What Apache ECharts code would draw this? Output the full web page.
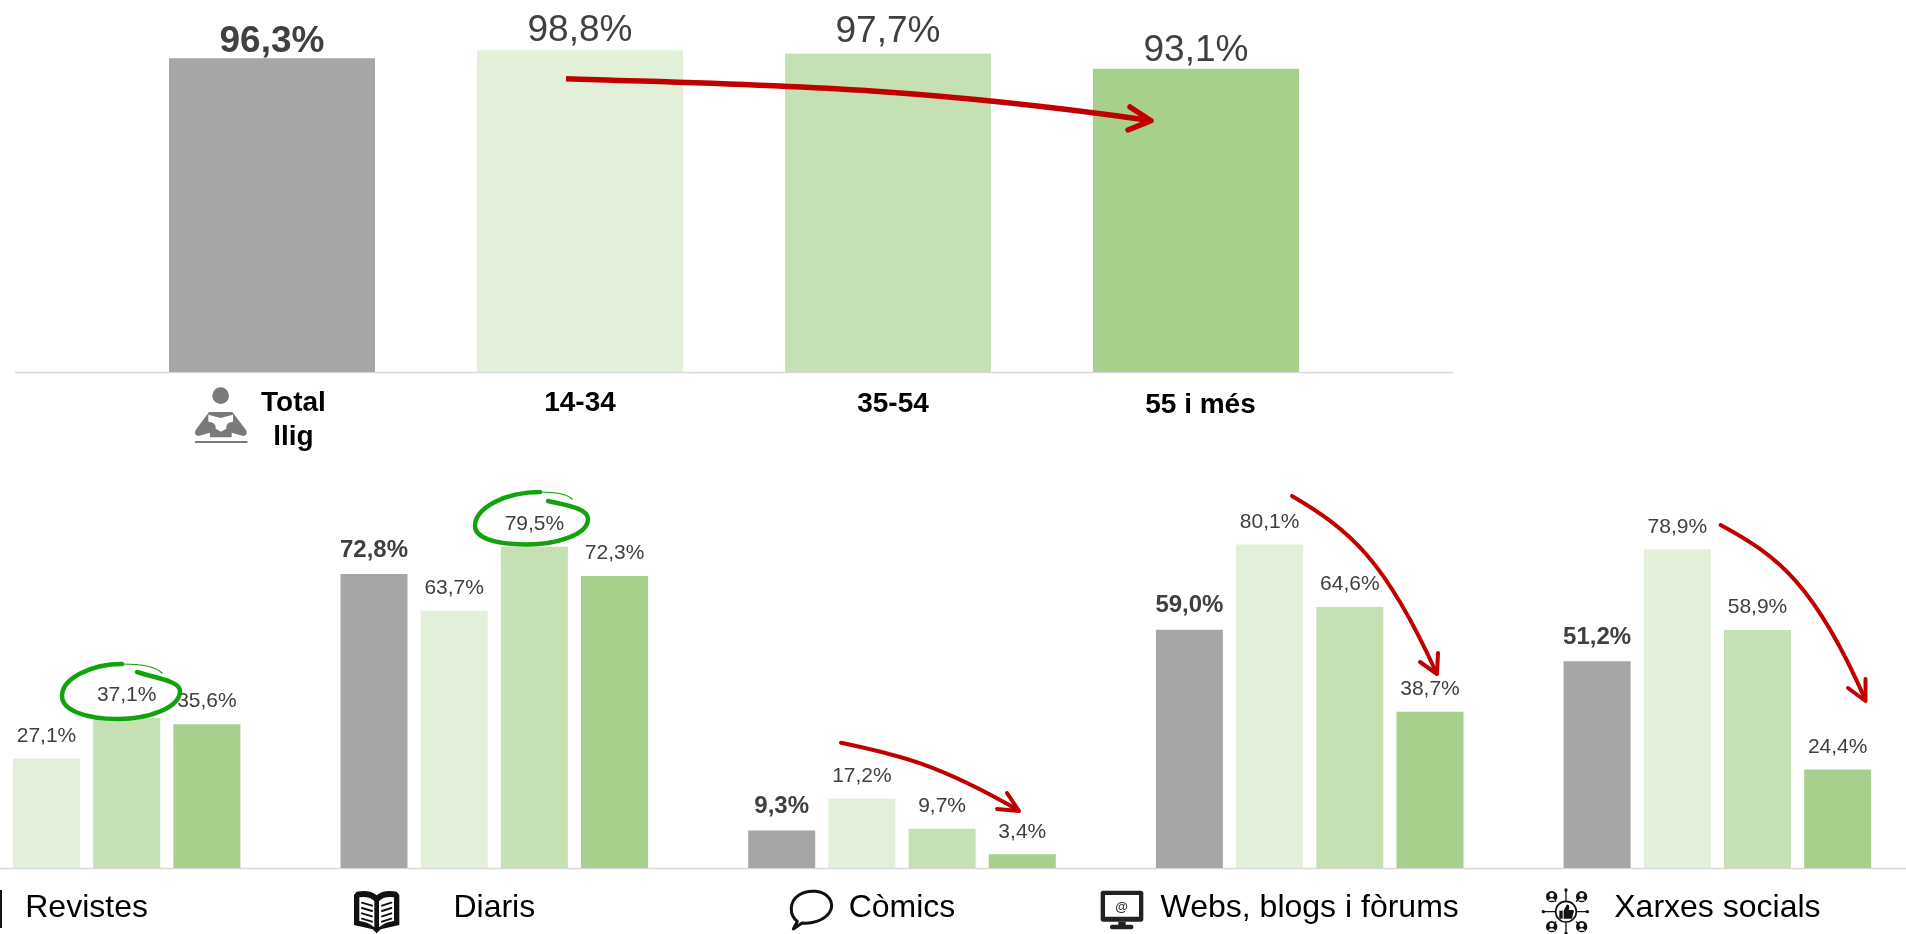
<!DOCTYPE html>
<html>
<head>
<meta charset="utf-8">
<style>html,body{margin:0;padding:0;background:#fff}#c{width:1906px;height:934px}</style>
<script src="https://cdn.jsdelivr.net/npm/echarts@6/dist/echarts.min.js"></script>
</head>
<body>
<div id="c"></div>
<script>
// ---- data ----
const ageCategories = ['Total llig', '14-34', '35-54', '55 i més'];
const ageValues = [96.3, 98.8, 97.7, 93.1];
const mediaCategories = ['Revistes', 'Diaris', 'Còmics', 'Webs, blogs i fòrums', 'Xarxes socials'];
const totalValues = [null, 72.8, 9.3, 59.0, 51.2];
const youngValues = [27.1, 63.7, 17.2, 80.1, 78.9];
const middleValues = [37.1, 79.5, 9.7, 64.6, 58.9];
const olderValues = [35.6, 72.3, 3.4, 38.7, 24.4];

// ---- styling ----
const GREY = '#A6A6A6', LIGHT = '#E2EFD9', MID = '#C5E0B3', DARK = '#A8D08D';
const LABEL = '#404040', RED = '#C00000', GREEN = '#12A30C', AXIS = '#D9D9D9';
const FONT = '"Liberation Sans", Arial, sans-serif';
const ageColors = [GREY, LIGHT, MID, DARK];
const ageLabelLift = [-2, 0.5, 3.5, -1];
const pct = v => v.toFixed(1).replace('.', ',') + '%';

const bottomSeries = (name, values, color, bold) => ({
  name, type: 'bar', xAxisIndex: 1, yAxisIndex: 1, data: values,
  barWidth: 67, barGap: '19.7%', animation: false, silent: true,
  itemStyle: { color },
  label: {
    show: true, position: 'top', distance: 12, color: LABEL, fontFamily: FONT,
    fontSize: bold ? 24 : 21, fontWeight: bold ? 'bold' : 'normal',
    formatter: p => pct(p.value)
  }
});

// ---- annotations (arrows, circles, icons) ----
const strokePath = (d, color, w) => ({
  type: 'path', shape: { pathData: d },
  style: { fill: null, stroke: color, lineWidth: w, lineCap: 'round', lineJoin: 'round' }
});
const fillPath = (d, color) => ({ type: 'path', shape: { pathData: d }, style: { fill: color, stroke: null } });
const circle = (cx, cy, r, color) => ({ type: 'circle', shape: { cx, cy, r }, style: { fill: color } });
const rect = (x, y, width, height, color, r) => ({ type: 'rect', shape: { x, y, width, height, r: r || 0 }, style: { fill: color } });
const zoomGroup = (x, y, children) => ({ type: 'group', x, y, scaleX: 1 / 3, scaleY: 1 / 3, children });

const person = (cx, cy) => ({
  type: 'group', children: [
    circle(cx, cy, 17, '#111'),
    circle(cx, cy - 5, 7, '#fff'),
    fillPath(`M${cx - 11} ${cy + 12} Q${cx} ${cy - 2} ${cx + 11} ${cy + 12} Z`, '#fff')
  ]
});

function annotations() {
  const out = [];
  // arrows
  out.push(
    { ...strokePath('M566 78.7 C750 85 900 85 1150 120.5', RED, 5.5), style: { fill: null, stroke: RED, lineWidth: 5.5, lineCap: 'butt' } },
    strokePath('M1130 107 L1151 120.7 L1128 130', RED, 5.5),
    strokePath('M841 742.7 C900 755 940 765 1018 810', RED, 4),
    strokePath('M1007 793 L1019 811 L997 809', RED, 4),
    strokePath('M1292 496 C1350 530 1385 560 1436 672', RED, 4),
    strokePath('M1438 653 L1437 674 L1420 662', RED, 4),
    strokePath('M1720.6 525 C1778 556 1815 585 1865 699', RED, 4),
    strokePath('M1865.5 679 L1865.5 701 L1848 688', RED, 4)
  );
  // hand-drawn circles
  out.push(
    strokePath('M137 672 C155 678 180 681 180 691 C180 708 148 719 118 719 C85 719 62 710 62 696 C62 678 92 664 122 664', GREEN, 4.5),
    strokePath('M122 664 C140 664 156 667 162 673', GREEN, 1.2),
    strokePath('M548 501 C565 505 588 508 588 519 C588 535 555 545 525 544.5 C495 544 475 538 475 526 C475 508 505 492 540 492', GREEN, 4.5),
    strokePath('M540 492 C555 492 567 494 572 499', GREEN, 1.2)
  );
  // reader icon
  out.push(zoomGroup(185, 380, [
    circle(107, 47, 25, '#7A7A7A'),
    fillPath('M72 96 L142 96 L183 150 Q190 165 175 168 L140 158 L140 172 L75 172 L75 158 L40 168 Q25 165 32 150 Z', '#7A7A7A'),
    fillPath('M70 104 L107 114 L144 104 L144 125 Q125 126 124 140 L124 146 L108 155 L92 146 L92 140 Q90 126 70 125 Z', '#fff'),
    rect(30, 183, 157, 6, '#7A7A7A')
  ]));
  // open-book icon (Diaris)
  const stripes = [];
  for (const y of [68, 84, 100, 116]) {
    stripes.push(strokePath(`M66 ${y} L96 ${y + 9}`, '#111', 6));
    stripes.push(strokePath(`M154 ${y} L126 ${y + 9}`, '#111', 6));
  }
  out.push(zoomGroup(340, 880, [
    fillPath('M42 45 L50 35 Q90 28 110 46 Q130 28 170 35 L178 45 L178 135 L122 148 L110 160 L98 148 L42 135 Z', '#111'),
    fillPath('M58 52 Q90 48 103 64 L103 142 Q85 126 58 123 Z', '#fff'),
    fillPath('M117 64 Q130 48 162 52 L162 123 Q135 126 117 142 Z', '#fff'),
    ...stripes
  ]));
  // speech-bubble icon (Còmics)
  out.push(zoomGroup(780, 880, [
    strokePath('M52 124 C27 105 27 65 57 45 C85 27 130 30 148 55 C168 85 143 113 110 124 C95 129 78 130 66 129 L40 147 Z', '#111', 9)
  ]));
  // monitor icon (Webs)
  out.push(zoomGroup(1090, 880, [
    rect(32, 32, 128, 93, '#222', 8),
    rect(45, 45, 102, 65, '#fff'),
    rect(85, 125, 22, 12, '#222'),
    rect(60, 134, 70, 14, '#222', 6)
  ]));
  out.push({ type: 'text', style: { text: '@', x: 1121.7, y: 907, fontSize: 13, fontWeight: 'bold', fontFamily: FONT, fill: '#333', align: 'center', verticalAlign: 'middle' } });
  // network icon (Xarxes)
  const cx = 108, cy = 155;
  const spokes = [[108, 92, 108, 122], [108, 188, 108, 218], [42, 155, 76, 155], [140, 155, 172, 155],
                  [77, 124, 65, 112], [139, 124, 153, 112], [77, 186, 65, 198], [139, 186, 153, 198]];
  out.push(zoomGroup(1530, 860, [
    ...spokes.map(s => strokePath(`M${s[0]} ${s[1]} L${s[2]} ${s[3]}`, '#111', 4)),
    { type: 'circle', shape: { cx, cy, r: 31 }, style: { fill: '#fff', stroke: '#111', lineWidth: 5 } },
    person(65, 110), person(155, 110), person(65, 200), person(155, 200),
    circle(108, 90, 5, '#111'), circle(40, 155, 5, '#111'), circle(172, 155, 5, '#111'), circle(108, 220, 5, '#111'),
    fillPath('M88 152 L98 152 L98 176 L88 176 Z', '#111'),
    fillPath('M101 152 L110 134 Q118 132 118 142 L116 150 L130 150 Q134 154 130 160 L126 176 L101 176 Z', '#111')
  ]));
  // clipped edge of the Revistes icon
  out.push(rect(0, 890, 2, 38, '#111'));
  return out;
}

const topText = { fontFamily: FONT, fontSize: 28, fontWeight: 'bold', color: '#000', lineHeight: 34 };
const topLabelRich = {
  total: { ...topText, padding: [0, 0, 0, 43] },
  a: { ...topText, padding: [0, 0, 0, 0] },
  b: { ...topText, padding: [2, 0, 0, 10] },
  c: { ...topText, padding: [4, 0, 0, 9] }
};
const topLabelFormat = v => {
  if (v === ageCategories[0]) { const w = v.split(' '); return `{total|${w[0]}}\n{total|${w[1]}}`; }
  if (v === ageCategories[1]) return `{a|${v}}`;
  if (v === ageCategories[2]) return `{b|${v}}`;
  return `{c|${v}}`;
};

const option = {
  backgroundColor: '#fff',
  animation: false,
  grid: [
    { left: 118, width: 1232, top: 46.3, height: 325.7, containLabel: false, outerBoundsMode: 'none' },
    { left: -117.25, width: 2038.5, top: 464, height: 404, containLabel: false, outerBoundsMode: 'none' }
  ],
  graphic: [
    { type: 'line', z: 0, shape: { x1: 15, y1: 372.5, x2: 1453, y2: 372.5 }, style: { stroke: AXIS, lineWidth: 1.5 } },
    { type: 'line', z: 0, shape: { x1: 0, y1: 868.5, x2: 1906, y2: 868.5 }, style: { stroke: AXIS, lineWidth: 1.5 } }
  ],
  xAxis: [
    {
      type: 'category', gridIndex: 0, data: ageCategories,
      axisLine: { show: false }, axisTick: { show: false },
      axisLabel: { margin: 14, interval: 0, formatter: topLabelFormat, rich: topLabelRich, lineHeight: 34 }
    },
    {
      type: 'category', gridIndex: 1, data: mediaCategories,
      axisLine: { show: false }, axisTick: { show: false },
      axisLabel: { margin: 24, interval: 0, fontFamily: FONT, fontSize: 32, color: '#000' }
    }
  ],
  yAxis: [
    { type: 'value', gridIndex: 0, min: 0, max: 100, show: false },
    { type: 'value', gridIndex: 1, min: 0, max: 100, show: false }
  ],
  series: [
    {
      name: 'Edat', type: 'bar', xAxisIndex: 0, yAxisIndex: 0, barWidth: 206, animation: false, silent: true,
      data: ageValues.map((value, i) => ({
        value, itemStyle: { color: ageColors[i] },
        label: {
          show: true, position: 'top', distance: 0, offset: [0, -ageLabelLift[i]],
          fontFamily: FONT, fontSize: 37, color: LABEL, fontWeight: i === 0 ? 'bold' : 'normal',
          formatter: p => pct(p.value)
        }
      }))
    },
    bottomSeries('Total', totalValues, GREY, true),
    bottomSeries('14-34', youngValues, LIGHT, false),
    bottomSeries('35-54', middleValues, MID, false),
    bottomSeries('55 i més', olderValues, DARK, false),
    {
      type: 'custom', coordinateSystem: 'none', silent: true, animation: false, z: 10,
      data: [0],
      renderItem: () => ({ type: 'group', children: annotations() })
    }
  ]
};
const chart = echarts.init(document.getElementById('c'), null, { renderer: 'canvas' });
chart.setOption(option);
</script>
</body>
</html>
